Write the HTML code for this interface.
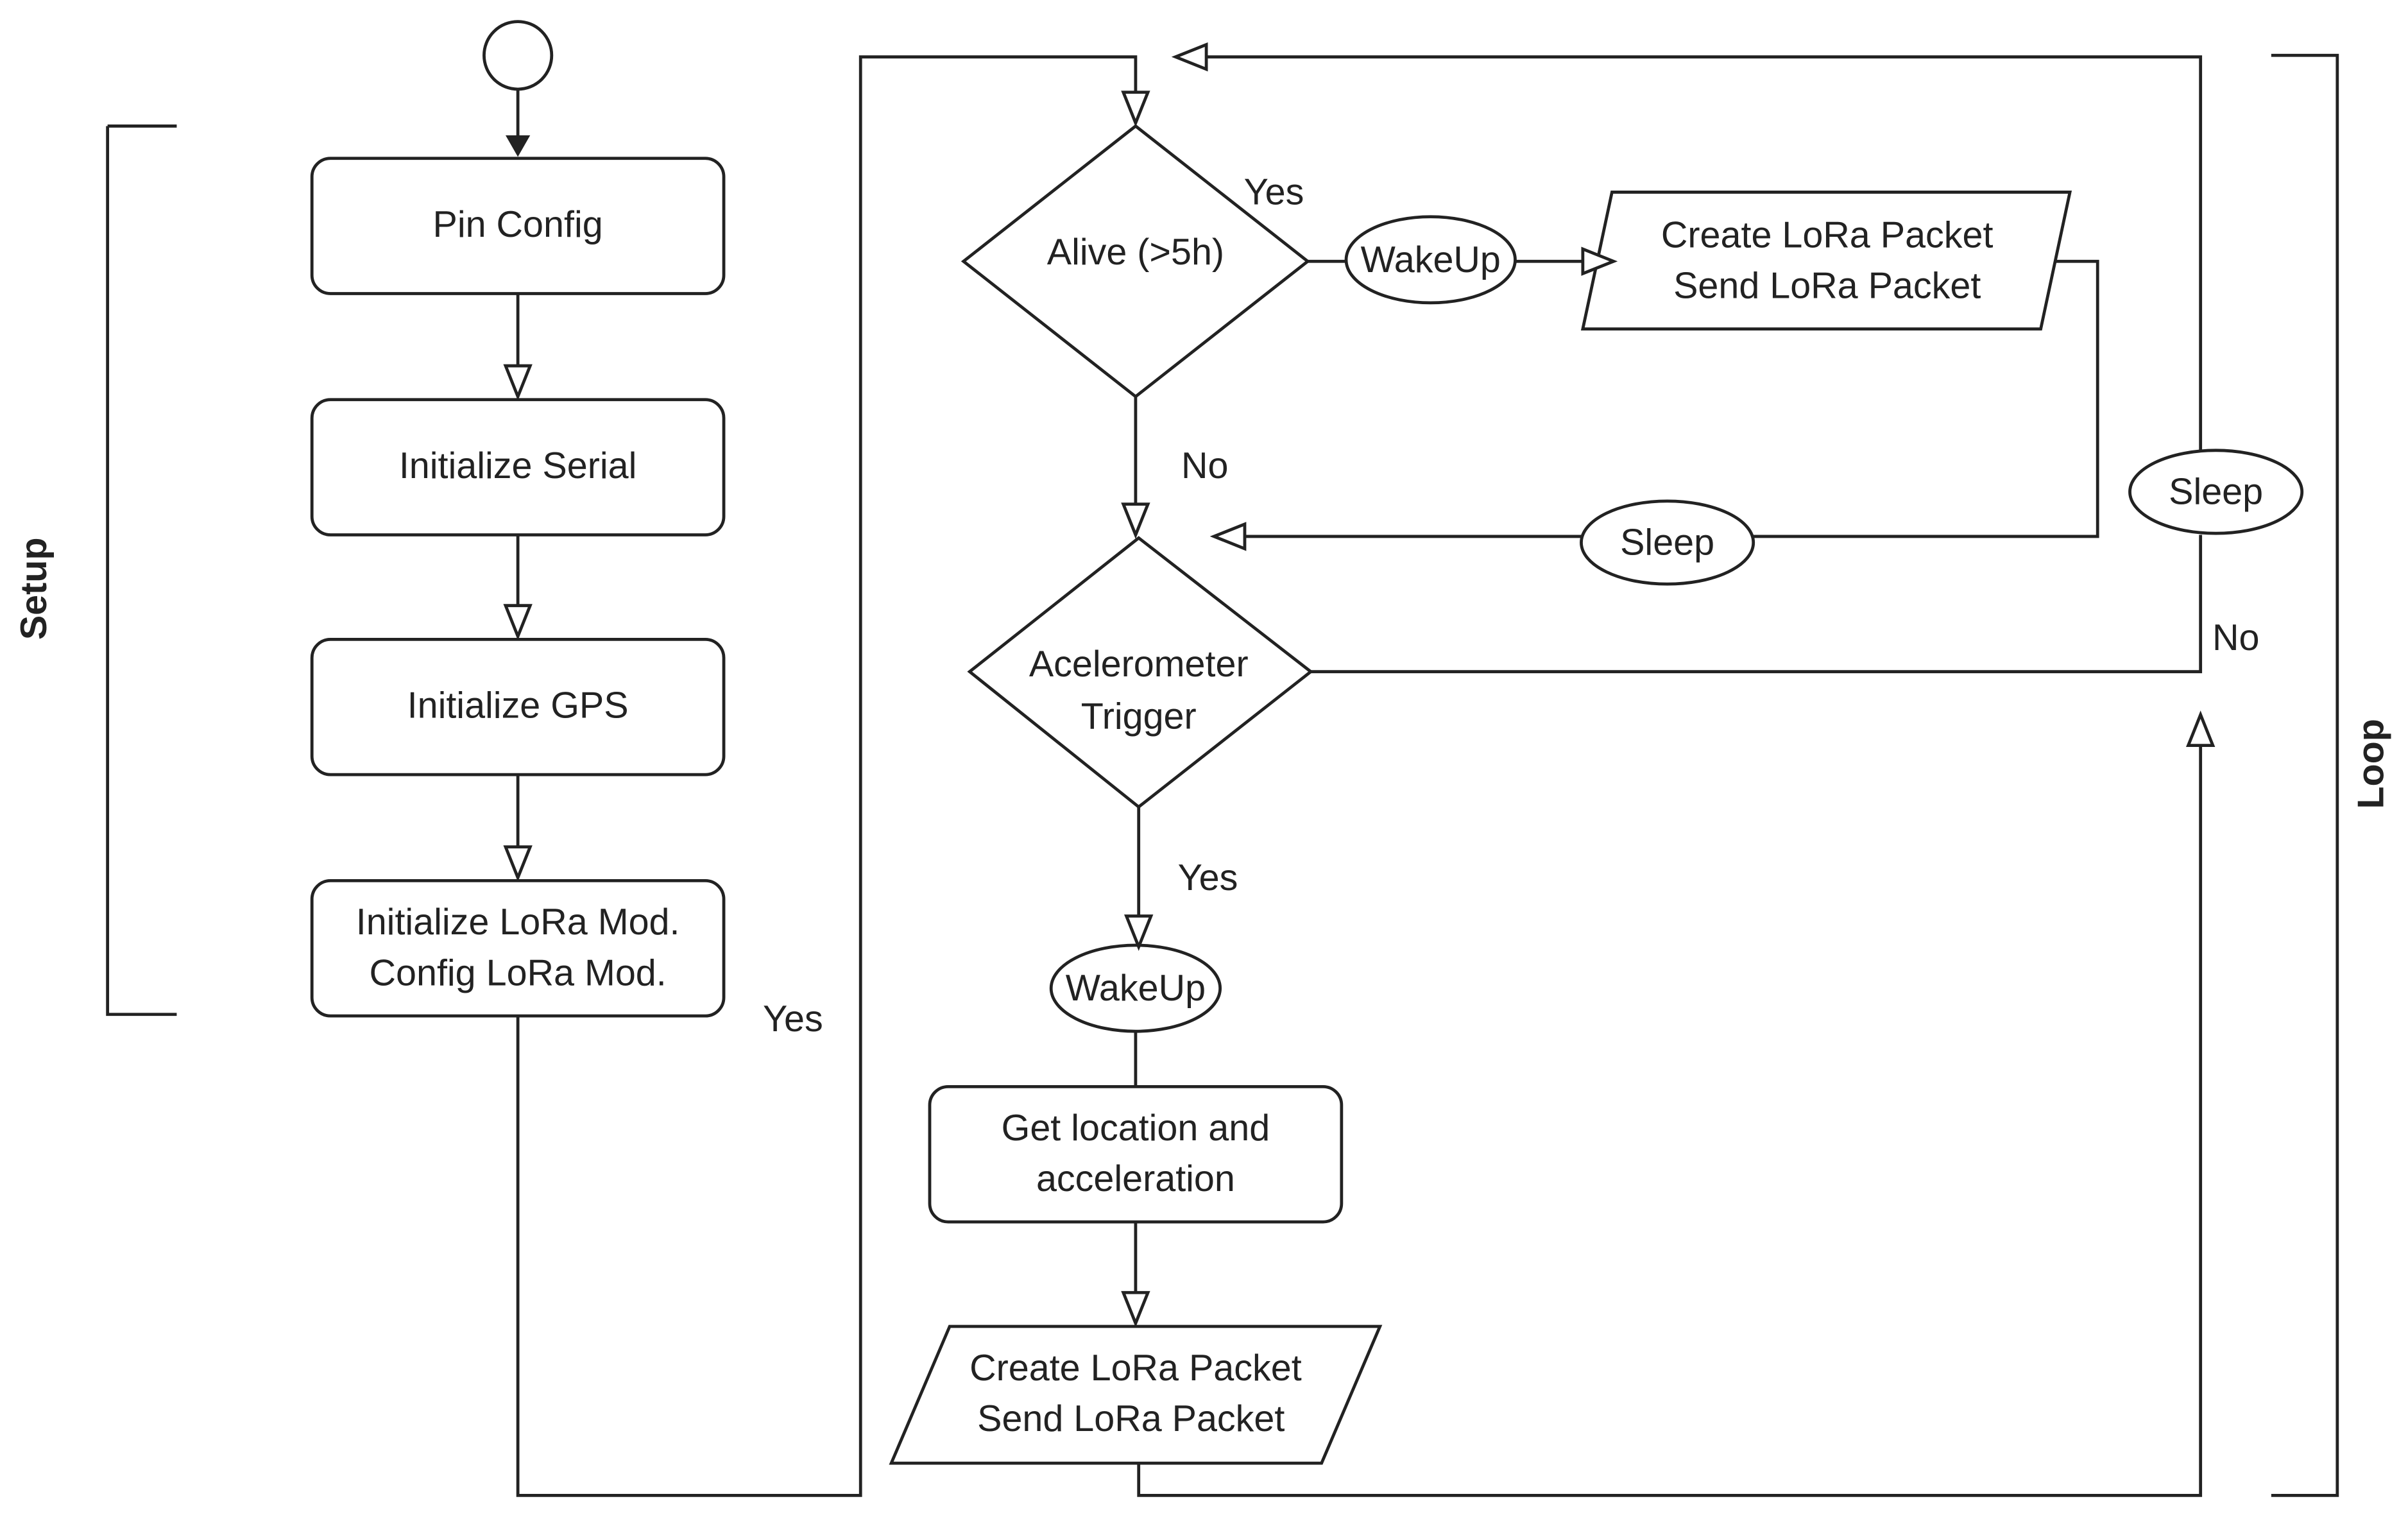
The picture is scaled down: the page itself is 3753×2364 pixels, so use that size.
<!DOCTYPE html>
<html><head><meta charset="utf-8"><style>
html,body{margin:0;padding:0;background:#fff;}
svg{display:block;}
text{font-family:"Liberation Sans",sans-serif;fill:#222;font-size:24px;text-anchor:middle;}
</style></head><body>
<svg width="3753" height="2364" viewBox="0 0 1567 987" xmlns="http://www.w3.org/2000/svg">
<g fill="none" stroke="#222" stroke-width="2">
<circle cx="337" cy="36" r="22" fill="#fff"/>
<line x1="337" y1="58" x2="337" y2="90"/>
<rect x="203" y="103" width="268" height="88" rx="12" fill="#fff"/>
<rect x="203" y="260" width="268" height="88" rx="12" fill="#fff"/>
<rect x="203" y="416" width="268" height="88" rx="12" fill="#fff"/>
<rect x="203" y="573" width="268" height="88" rx="12" fill="#fff"/>
<line x1="337" y1="191" x2="337" y2="238"/>
<line x1="337" y1="348" x2="337" y2="394"/>
<line x1="337" y1="504" x2="337" y2="551"/>
<polyline points="70,82 115,82"/><polyline points="70,82 70,660 115,660"/>
<polyline points="337,661 337,973 560,973 560,37 739,37 739,60"/>
<polygon points="627,170 739,82 851,170 739,258" fill="#fff"/>
<line x1="851" y1="170" x2="876" y2="170"/>
<ellipse cx="931" cy="169" rx="55" ry="28" fill="#fff"/>
<line x1="986" y1="170" x2="1030" y2="170"/>
<polygon points="1049,125 1347,125 1328,214 1030,214" fill="#fff"/>
<polyline points="1337,170 1365,170 1365,349 1141,349"/>
<ellipse cx="1085" cy="353" rx="56" ry="27" fill="#fff"/>
<line x1="1029" y1="349" x2="810" y2="349"/>
<line x1="739" y1="258" x2="739" y2="328"/>
<polygon points="631,437 741,350 853,437 741,525" fill="#fff"/>
<polyline points="853,437 1432,437 1432,348"/>
<ellipse cx="1442" cy="320" rx="56" ry="27" fill="#fff"/>
<polyline points="1432,293 1432,37 785,37"/>
<line x1="741" y1="525" x2="741" y2="596"/>
<ellipse cx="739" cy="643" rx="55" ry="28" fill="#fff"/>
<line x1="739" y1="671" x2="739" y2="707"/>
<rect x="605" y="707" width="268" height="88" rx="12" fill="#fff"/>
<line x1="739" y1="795" x2="739" y2="841"/>
<polygon points="618,863 898,863 860,952 580,952" fill="#fff"/>
<polyline points="741,952 741,973 1432,973 1432,485"/>
<polyline points="1478,36 1521,36 1521,973 1478,973"/>
</g>
<g fill="#fff" stroke="#222" stroke-width="2">
<polygon points="329,238 345,238 337,258"/>
<polygon points="329,394 345,394 337,414"/>
<polygon points="329,551 345,551 337,571"/>
<polygon points="731,60 747,60 739,80"/>
<polygon points="1030,162 1030,178 1050,170"/>
<polygon points="810,341 810,357 790,349"/>
<polygon points="731,328 747,328 739,348"/>
<polygon points="785,29 785,45 765,37"/>
<polygon points="733,596 749,596 741,616"/>
<polygon points="731,841 747,841 739,861"/>
<polygon points="1424,485 1440,485 1432,465"/>
</g>
<polygon points="329,88 345,88 337,102" fill="#222"/>
<text x="337" y="154">Pin Config</text>
<text x="337" y="311">Initialize Serial</text>
<text x="337" y="467">Initialize GPS</text>
<text x="337" y="608">Initialize LoRa Mod.</text>
<text x="337" y="641">Config LoRa Mod.</text>
<text x="516" y="671" font-size="21">Yes</text>
<text x="739" y="172">Alive (&gt;5h)</text>
<text x="829" y="133" font-size="21">Yes</text>
<text x="931" y="177">WakeUp</text>
<text x="1189" y="161">Create LoRa Packet</text>
<text x="1189" y="194">Send LoRa Packet</text>
<text x="1085" y="361">Sleep</text>
<text x="1442" y="328">Sleep</text>
<text x="784" y="311" font-size="21">No</text>
<text x="1455" y="423" font-size="21">No</text>
<text x="741" y="440">Acelerometer</text>
<text x="741" y="474">Trigger</text>
<text x="786" y="579" font-size="21">Yes</text>
<text x="739" y="651">WakeUp</text>
<text x="739" y="742">Get location and</text>
<text x="739" y="775">acceleration</text>
<text x="739" y="898">Create LoRa Packet</text>
<text x="736" y="931">Send LoRa Packet</text>
<text x="0" y="0" font-weight="bold" font-size="22" transform="translate(30,383) rotate(-90)">Setup</text>
<text x="0" y="0" font-weight="bold" font-size="22" transform="translate(1551,497) rotate(-90)">Loop</text>
</svg>
</body></html>
